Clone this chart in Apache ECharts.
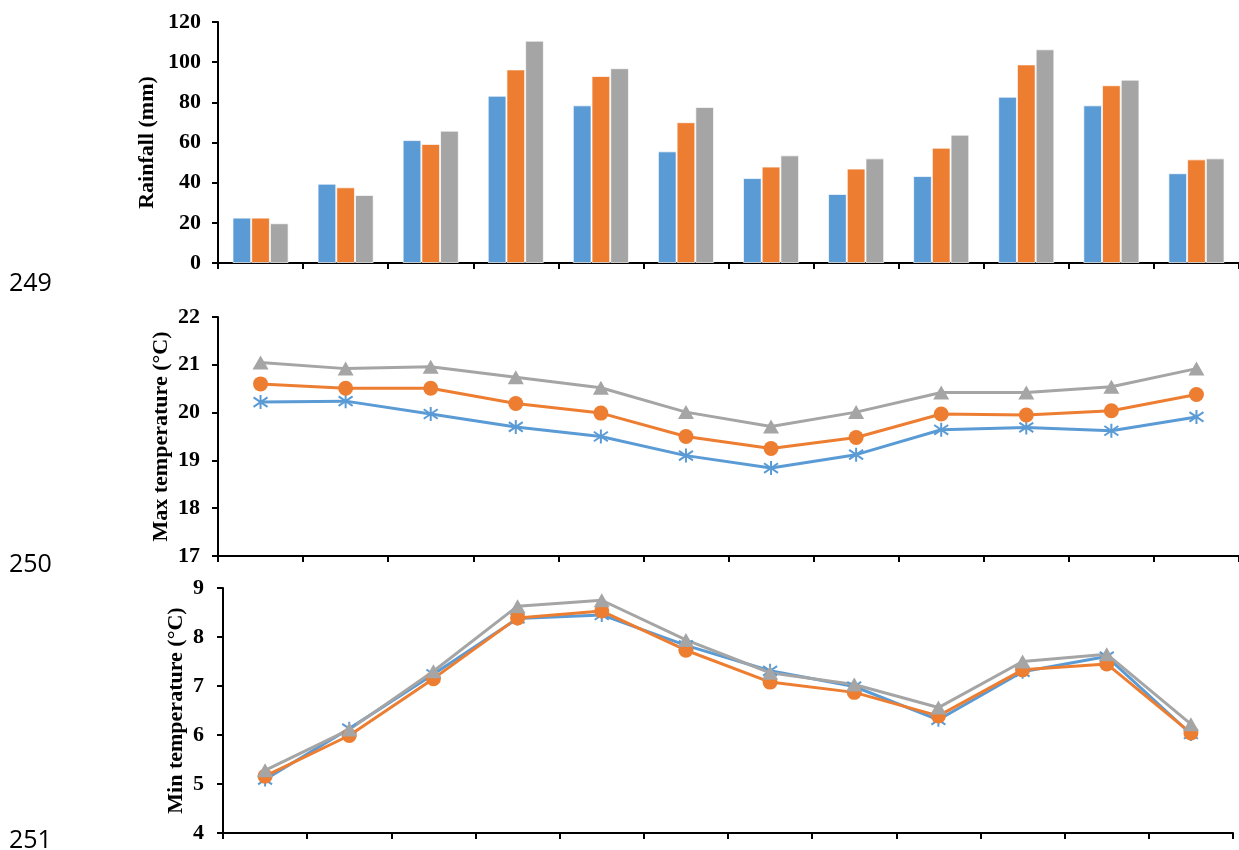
<!DOCTYPE html>
<html>
<head>
<meta charset="utf-8">
<script src="https://cdn.jsdelivr.net/npm/echarts@6/dist/echarts.min.js"></script>
<style>
  html, body { margin: 0; padding: 0; background: #ffffff; }
  #chart { width: 1239px; height: 850px; }
</style>
</head>
<body>
<div id="chart"></div>
<script>
// Monthly categories (x axis labels are not shown)
const months = ['Jan', 'Feb', 'Mar', 'Apr', 'May', 'Jun', 'Jul', 'Aug', 'Sep', 'Oct', 'Nov', 'Dec'];
const seriesNames = ['Period 1', 'Period 2', 'Period 3'];

// Rainfall (mm)
const rainP1 = [22.6, 39.5, 61.2, 83.3, 78.5, 55.6, 42.3, 34.4, 43.3, 82.8, 78.5, 44.7];
const rainP2 = [22.6, 37.7, 59.3, 96.4, 93.1, 70.1, 48.0, 47.0, 57.4, 98.9, 88.5, 51.6];
const rainP3 = [19.8, 33.9, 65.9, 110.7, 97.0, 77.7, 53.6, 52.1, 63.9, 106.4, 91.3, 52.1];

// Max temperature (°C)
const tmaxP1 = [20.22, 20.24, 19.97, 19.70, 19.50, 19.10, 18.84, 19.12, 19.64, 19.69, 19.62, 19.91];
const tmaxP2 = [20.60, 20.51, 20.51, 20.19, 19.99, 19.50, 19.25, 19.48, 19.97, 19.95, 20.04, 20.38];
const tmaxP3 = [21.05, 20.92, 20.96, 20.74, 20.52, 20.01, 19.71, 20.01, 20.42, 20.42, 20.54, 20.92];

// Min temperature (°C)
const tminP1 = [5.09, 6.13, 7.24, 8.38, 8.45, 7.83, 7.31, 6.99, 6.31, 7.29, 7.60, 6.02];
const tminP2 = [5.16, 5.99, 7.15, 8.39, 8.53, 7.73, 7.08, 6.87, 6.39, 7.33, 7.45, 6.04];
const tminP3 = [5.28, 6.11, 7.30, 8.63, 8.75, 7.94, 7.27, 7.03, 6.56, 7.50, 7.65, 6.22];

// Panel line numbers in the left margin
const lineNumbers = ['249', '250', '251'];

const colors = ['#5B9BD5', '#ED7D31', '#A5A5A5'];
const serif = '"Liberation Serif", "Times New Roman", serif';
const asterisk = 'path://M5 0 L5 10 M0.6 1.6 L9.4 8.4 M0.6 8.4 L9.4 1.6';

const chart = echarts.init(document.getElementById('chart'), null, { renderer: 'canvas' });

function xAxisFor(gridIndex) {
  return {
    type: 'category',
    gridIndex,
    data: months,
    boundaryGap: true,
    axisLine: { show: true, lineStyle: { color: '#000', width: 2 } },
    axisTick: { show: true, length: 6, inside: false, lineStyle: { color: '#000', width: 2 } },
    axisLabel: { show: false },
    splitLine: { show: false }
  };
}

function yAxisFor(gridIndex, min, max, interval, name, nameGap, margin) {
  return {
    type: 'value',
    gridIndex,
    min, max, interval,
    name,
    nameLocation: 'middle',
    nameGap,
    nameMoveOverlap: false,
    nameTextStyle: { fontFamily: serif, fontWeight: 'bold', fontSize: 22, color: '#000' },
    axisLine: { show: true, lineStyle: { color: '#000', width: 2 } },
    axisTick: { show: true, length: 6, inside: false, lineStyle: { color: '#000', width: 2 } },
    axisLabel: { fontFamily: serif, fontWeight: 'bold', fontSize: 22, color: '#000', margin },
    splitLine: { show: false }
  };
}

function barSeries(i, data) {
  return {
    name: seriesNames[i],
    type: 'bar',
    xAxisIndex: 0, yAxisIndex: 0,
    data,
    barGap: '0%',
    barCategoryGap: '34%',
    itemStyle: { color: colors[i], borderColor: 'rgba(255,255,255,0.7)', borderWidth: 1 },
    animation: false
  };
}

const markerSymbols = [asterisk, 'circle', 'triangle'];
const markerSizes = [14, 15, [16, 14]];

function lineSeries(i, axisIdx, data) {
  return {
    name: seriesNames[i],
    type: 'line',
    xAxisIndex: axisIdx, yAxisIndex: axisIdx,
    data,
    symbol: markerSymbols[i],
    symbolSize: markerSizes[i],
    showAllSymbol: true,
    lineStyle: { color: colors[i], width: 3 },
    itemStyle: i === 0
      ? { color: colors[i], borderColor: colors[i], borderWidth: 2 }
      : { color: colors[i], borderWidth: 0 },
    animation: false
  };
}

const option = {
  backgroundColor: '#ffffff',
  grid: [
    { left: 218, top: 22, width: 1022, height: 241 },
    { left: 218, top: 317, width: 1022, height: 239 },
    { left: 223, top: 588, width: 1010, height: 245 }
  ],
  xAxis: [xAxisFor(0), xAxisFor(1), xAxisFor(2)],
  yAxis: [
    yAxisFor(0, 0, 120, 20, 'Rainfall (mm)', 60, 17),
    yAxisFor(1, 17, 22, 1, 'Max temperature (°C)', 46, 18),
    yAxisFor(2, 4, 9, 1, 'Min temperature (°C)', 36, 19)
  ],
  series: [
    barSeries(0, rainP1), barSeries(1, rainP2), barSeries(2, rainP3),
    lineSeries(0, 1, tmaxP1), lineSeries(1, 1, tmaxP2), lineSeries(2, 1, tmaxP3),
    lineSeries(0, 2, tminP1), lineSeries(1, 2, tminP2), lineSeries(2, 2, tminP3)
  ],
  graphic: lineNumbers.map((t, k) => ({
    type: 'text',
    left: 9,
    top: [271, 552, 828][k],
    style: { text: t, font: '25px "Open Sans", "Noto Sans", sans-serif', fill: '#000' }
  }))
};

chart.setOption(option);
</script>
</body>
</html>
